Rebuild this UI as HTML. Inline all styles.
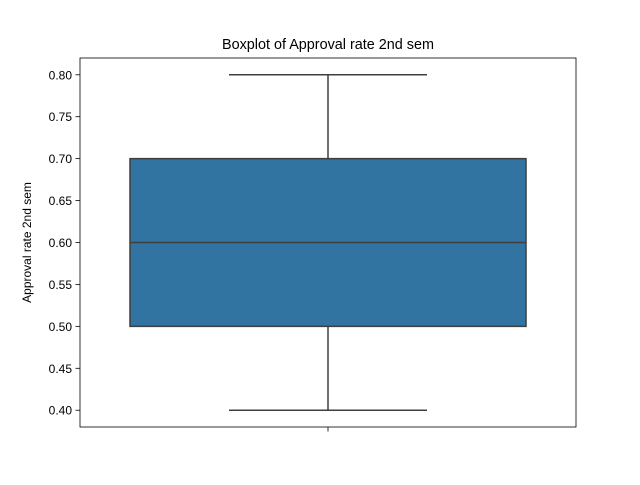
<!DOCTYPE html>
<html><head><meta charset="utf-8"><style>
body{margin:0;background:#fff;}
svg text{font-family:"Liberation Sans","DejaVu Sans",sans-serif;fill:#000;}
</style></head><body>
<svg id="chart" width="640" height="480" xmlns="http://www.w3.org/2000/svg">
<rect width="640" height="480" fill="#fff"/>
<text x="328" y="49" font-size="14.4" text-anchor="middle">Boxplot of Approval rate 2nd sem</text>
<g id="yaxis"></g>
<g id="box"></g>
<rect x="80" y="58" width="496" height="369" fill="none" stroke="#000" stroke-width="0.8"/>
<line x1="328" y1="427" x2="328" y2="431.5" stroke="#000" stroke-width="0.8"/>
<text x="0" y="0" font-size="12" text-anchor="middle" transform="translate(31,242.5) rotate(-90)">Approval rate 2nd sem</text>
</svg>
<script>
const yTicks = [0.40,0.45,0.50,0.55,0.60,0.65,0.70,0.75,0.80];
const yTickLabels = ["0.40","0.45","0.50","0.55","0.60","0.65","0.70","0.75","0.80"];
const stats = [0.40, 0.50, 0.60, 0.70, 0.80]; // min, q1, median, q3, max
const yMin = 0.38, yMax = 0.82;
const plotTop = 58, plotBottom = 427;
function y(v){ return plotBottom - (v - yMin)/(yMax - yMin)*(plotBottom - plotTop); }
const NS = "http://www.w3.org/2000/svg";
function mk(tag, attrs, parent){ const e = document.createElementNS(NS, tag); for (const k in attrs) e.setAttribute(k, attrs[k]); parent.appendChild(e); return e; }
const ya = document.getElementById('yaxis');
yTicks.forEach((t,i)=>{
  const l = mk('line',{x1:75.5,x2:80,y1:y(t),y2:y(t),stroke:'#000','stroke-width':0.8},ya);
  
  
  const tx = mk('text',{x:72,y:y(t)+4.5,'font-size':12,'text-anchor':'end'},ya);
  tx.textContent = yTickLabels[i];
  
  
});
const b = document.getElementById('box');
const c = '#3f3f3f';
const w1 = mk('line',{x1:328,x2:328,y1:y(stats[0]),y2:y(stats[1]),stroke:c,'stroke-width':1.5},b);


const w2 = mk('line',{x1:328,x2:328,y1:y(stats[3]),y2:y(stats[4]),stroke:c,'stroke-width':1.5},b);


const c1 = mk('line',{x1:229,x2:427,y1:y(stats[0]),y2:y(stats[0]),stroke:c,'stroke-width':1.5},b);


const c2 = mk('line',{x1:229,x2:427,y1:y(stats[4]),y2:y(stats[4]),stroke:c,'stroke-width':1.5},b);


const r = mk('rect',{x:130,width:396,y:y(stats[3]),height:y(stats[1])-y(stats[3]),fill:'#3274a1',stroke:c,'stroke-width':1.5},b);


const m = mk('line',{x1:130,x2:526,y1:y(stats[2]),y2:y(stats[2]),stroke:c,'stroke-width':1.5},b);


</script>
</body></html>
